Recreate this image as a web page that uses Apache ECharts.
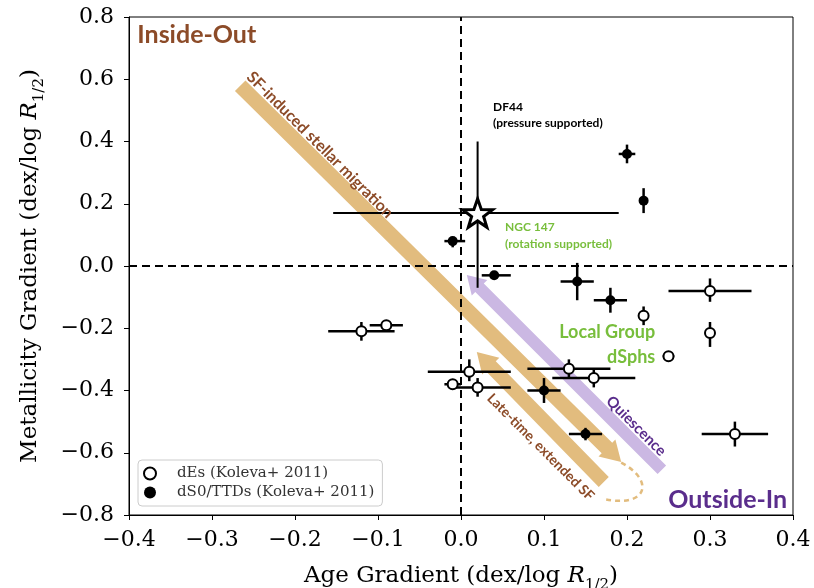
<!DOCTYPE html>
<html>
<head>
<meta charset="utf-8">
<script src="https://cdn.jsdelivr.net/npm/echarts@6/dist/echarts.min.js"></script>
<style>
  html, body { margin: 0; padding: 0; background: #fff; }
  #chart { width: 814px; height: 588px; }
</style>
</head>
<body>
<div id="chart"></div>
<script>
// dEs (Koleva+ 2011): [age gradient, metallicity gradient]
const dEsPoints = [
  [-0.12, -0.21], [-0.09, -0.19], [0.01, -0.34], [-0.01, -0.38], [0.02, -0.39],
  [0.13, -0.33], [0.16, -0.36], [0.30, -0.08], [0.22, -0.16], [0.30, -0.215],
  [0.25, -0.29], [0.33, -0.54]
]
const dEsAgeErr = [
  [-0.16, -0.08], [-0.11, -0.07], [-0.04, 0.06], [-0.02, 0.0], [-0.01, 0.06],
  [0.08, 0.18], [0.11, 0.21], [0.25, 0.35], [0.215, 0.225], [0.295, 0.305],
  [0.243, 0.257], [0.29, 0.37]
]
const dEsMetErr = [
  [-0.24, -0.18], [-0.20, -0.18], [-0.37, -0.30], [-0.39, -0.37], [-0.42, -0.36],
  [-0.36, -0.30], [-0.39, -0.33], [-0.115, -0.04], [-0.19, -0.13], [-0.26, -0.18],
  [-0.30, -0.28], [-0.58, -0.50]
]

// dS0/TTDs (Koleva+ 2011)
const dS0Points = [
  [-0.01, 0.08], [0.04, -0.03], [0.14, -0.05], [0.18, -0.11],
  [0.20, 0.36], [0.22, 0.21], [0.10, -0.40], [0.15, -0.54]
]
const dS0AgeErr = [
  [-0.02, 0.005], [0.025, 0.06], [0.12, 0.16], [0.16, 0.20],
  [0.19, 0.21], [0.215, 0.225], [0.08, 0.12], [0.13, 0.17]
]
const dS0MetErr = [
  [0.06, 0.09], [-0.04, -0.02], [-0.11, 0.01], [-0.15, -0.07],
  [0.33, 0.39], [0.17, 0.25], [-0.44, -0.36], [-0.56, -0.52]
]

// DF44
const df44Point = [0.02, 0.17]
const df44AgeErr = [-0.154, 0.19]
const df44MetErr = [-0.07, 0.40]

// schematic arrows: [tail], [tip] in gradient units
const migrationArrow = [[-0.266, 0.579], [0.193, -0.630]]
const lateSFArrow = [[0.172, -0.694], [0.019, -0.276]]
const quiescenceArrow = [[0.242, -0.655], [0.007, -0.029]]
const returnCurve = [[0.193, -0.632], [0.232, -0.685], [0.228, -0.780], [0.170, -0.748]]

// annotations
const noteText = ['Inside-Out', 'Outside-In', 'DF44', '(pressure supported)', 'NGC 147',
  '(rotation supported)', 'Local Group', 'dSphs', 'SF-induced stellar migration',
  'Quiescence', 'Late-time, extended SF']
const noteX = [-0.390, 0.393, 0.0386, 0.0386, 0.053, 0.053, 0.234, 0.234, -0.170, 0.211, 0.096]
const noteY = [0.742, -0.752, 0.511, 0.459, 0.125, 0.071, -0.212, -0.292, 0.389, -0.514, -0.582]

const xTicks = [-0.4, 0.4, 0.1]
const yTicks = [-0.8, 0.8, 0.2]

const brown = '#8c4b28'
const purple = '#5a2d8c'
const green = '#78be3c'
const tan = '#e2bc7e'
const lilac = '#cbb8e3'

const noteStyles = [
  { color: brown, size: 25, align: 'left', rot: 0 },
  { color: purple, size: 25, align: 'right', rot: 0 },
  { color: '#000', size: 12, align: 'left', rot: 0 },
  { color: '#000', size: 12, align: 'left', rot: 0 },
  { color: green, size: 12, align: 'left', rot: 0 },
  { color: green, size: 12, align: 'left', rot: 0 },
  { color: green, size: 18, align: 'right', rot: 0 },
  { color: green, size: 18, align: 'right', rot: 0 },
  { color: brown, size: 16, align: 'center', rot: -Math.PI / 4 },
  { color: purple, size: 15, align: 'center', rot: -Math.PI / 4 },
  { color: brown, size: 14, align: 'center', rot: -Math.PI / 4 }
]

const arrowStyles = [
  { color: tan, width: 15, headWidth: 24, headLength: 20 },
  { color: tan, width: 14, headWidth: 24, headLength: 20 },
  { color: lilac, width: 12, headWidth: 22, headLength: 18 }
]

const fmt = v => (v < -1e-9 ? '\u2212' : '') + Math.abs(v).toFixed(1)

function errorData(points, xe, ye) {
  return points.map((p, i) => [p[0], p[1], xe[i][0], xe[i][1], ye[i][0], ye[i][1]])
}

function errorBarItem(lineWidth) {
  return function (params, api) {
    const xl = api.coord([api.value(2), api.value(1)])
    const xh = api.coord([api.value(3), api.value(1)])
    const yl = api.coord([api.value(0), api.value(4)])
    const yh = api.coord([api.value(0), api.value(5)])
    const style = { stroke: '#000', lineWidth: lineWidth }
    return {
      type: 'group',
      children: [
        { type: 'line', shape: { x1: xl[0], y1: xl[1], x2: xh[0], y2: xh[1] }, style: style },
        { type: 'line', shape: { x1: yl[0], y1: yl[1], x2: yh[0], y2: yh[1] }, style: style }
      ]
    }
  }
}

function arrowItem(params, api) {
  const s = arrowStyles[params.dataIndex]
  const p1 = api.coord([api.value(0), api.value(1)])
  const p2 = api.coord([api.value(2), api.value(3)])
  const dx = p2[0] - p1[0], dy = p2[1] - p1[1]
  const len = Math.hypot(dx, dy)
  const ux = dx / len, uy = dy / len, nx = -uy, ny = ux
  const bx = p2[0] - ux * s.headLength, by = p2[1] - uy * s.headLength
  const hw = s.width / 2, hh = s.headWidth / 2
  const pts = [
    [p1[0] + nx * hw, p1[1] + ny * hw],
    [bx + nx * hw, by + ny * hw],
    [bx + nx * hh, by + ny * hh],
    [p2[0], p2[1]],
    [bx - nx * hh, by - ny * hh],
    [bx - nx * hw, by - ny * hw],
    [p1[0] - nx * hw, p1[1] - ny * hw]
  ]
  return { type: 'polygon', shape: { points: pts }, style: { fill: s.color } }
}

function curveItem(params, api) {
  const p = [0, 1, 2, 3].map(k => api.coord(returnCurve[k]))
  return {
    type: 'bezierCurve',
    shape: { x1: p[0][0], y1: p[0][1], cpx1: p[1][0], cpy1: p[1][1], cpx2: p[2][0], cpy2: p[2][1], x2: p[3][0], y2: p[3][1] },
    style: { stroke: tan, lineWidth: 2.5, lineDash: [5, 4], fill: null }
  }
}

function noteItem(params, api) {
  const s = noteStyles[params.dataIndex]
  const p = api.coord([api.value(0), api.value(1)])
  return {
    type: 'text',
    x: p[0],
    y: p[1],
    rotation: s.rot,
    style: {
      text: noteText[params.dataIndex],
      fill: s.color,
      font: 'bold ' + s.size + 'px Lato, "Open Sans", sans-serif',
      align: s.align,
      verticalAlign: 'middle'
    }
  }
}

const nameRich = {
  n: { fontFamily: 'DejaVu Serif', fontSize: 23, color: '#000', verticalAlign: 'top', lineHeight: 28 },
  i: { fontFamily: 'DejaVu Serif', fontStyle: 'italic', fontSize: 23, color: '#000', verticalAlign: 'top', lineHeight: 28 },
  s: { fontFamily: 'DejaVu Serif', fontSize: 15, color: '#000', verticalAlign: 'bottom', lineHeight: 15, padding: [16, 0, 0, 0] }
}

const chart = echarts.init(document.getElementById('chart'))

chart.setOption({
  animation: false,
  backgroundColor: '#fff',
  grid: {
    left: 129, right: 21, top: 17, bottom: 73,
    outerBoundsMode: 'none',
    show: true, borderColor: '#000', borderWidth: 1, backgroundColor: 'transparent'
  },
  legend: {
    data: ['dEs (Koleva+ 2011)', 'dS0/TTDs (Koleva+ 2011)'],
    orient: 'vertical',
    left: 138,
    top: 460,
    padding: [6, 8, 6, 5],
    itemGap: 4,
    itemWidth: 24,
    itemHeight: 12,
    borderColor: '#ccc',
    borderWidth: 1,
    borderRadius: 4,
    backgroundColor: '#fff',
    formatter: name => '{a|' + name + '}',
    textStyle: {
      rich: { a: { fontFamily: 'DejaVu Serif', fontSize: 15, color: '#333', padding: [0, 0, 0, 10] } }
    }
  },
  xAxis: {
    type: 'value',
    min: xTicks[0],
    max: xTicks[1],
    interval: xTicks[2],
    name: '{n|Age Gradient (dex/log }{i|R}{s|1/2}{n|)}',
    nameLocation: 'middle',
    nameGap: 50,
    nameTextStyle: { rich: nameRich },
    axisLine: { onZero: false, lineStyle: { color: '#000', width: 1 } },
    axisTick: { show: true, length: 5, lineStyle: { color: '#000' } },
    axisLabel: { formatter: fmt, fontFamily: 'DejaVu Serif', fontSize: 22, color: '#000', margin: 14 },
    splitLine: { show: false }
  },
  yAxis: {
    type: 'value',
    min: yTicks[0],
    max: yTicks[1],
    interval: yTicks[2],
    name: '{n|Metallicity Gradient (dex/log }{i|R}{s|1/2}{n|)}',
    nameLocation: 'middle',
    nameGap: 82,
    nameTextStyle: { rich: nameRich },
    axisLine: { onZero: false, lineStyle: { color: '#000', width: 1 } },
    axisTick: { show: true, length: 5, lineStyle: { color: '#000' } },
    axisLabel: { formatter: fmt, fontFamily: 'DejaVu Serif', fontSize: 22, color: '#000', margin: 15 },
    splitLine: { show: false }
  },
  series: [
    {
      type: 'custom',
      name: 'arrows',
      z: 1,
      silent: true,
      renderItem: arrowItem,
      encode: { x: [0, 2], y: [1, 3] },
      data: [migrationArrow, lateSFArrow, quiescenceArrow].map(a => [a[0][0], a[0][1], a[1][0], a[1][1]])
    },
    {
      type: 'custom',
      name: 'return',
      z: 1,
      silent: true,
      renderItem: curveItem,
      encode: { x: 0, y: 1 },
      data: [returnCurve[0]]
    },
    {
      type: 'scatter',
      name: 'zero',
      z: 2,
      data: [],
      markLine: {
        silent: true,
        symbol: 'none',
        label: { show: false },
        lineStyle: { color: '#000', width: 2, type: [8, 5] },
        data: [{ xAxis: 0 }, { yAxis: 0 }]
      }
    },
    {
      type: 'custom',
      name: 'dEs err',
      z: 3,
      silent: true,
      renderItem: errorBarItem(2.5),
      encode: { x: [0, 2, 3], y: [1, 4, 5] },
      data: errorData(dEsPoints, dEsAgeErr, dEsMetErr)
    },
    {
      type: 'custom',
      name: 'dS0 err',
      z: 3,
      silent: true,
      renderItem: errorBarItem(2.5),
      encode: { x: [0, 2, 3], y: [1, 4, 5] },
      data: errorData(dS0Points, dS0AgeErr, dS0MetErr)
    },
    {
      type: 'custom',
      name: 'DF44 err',
      z: 3,
      silent: true,
      renderItem: errorBarItem(2),
      encode: { x: [0, 2, 3], y: [1, 4, 5] },
      data: errorData([df44Point], [df44AgeErr], [df44MetErr])
    },
    {
      type: 'scatter',
      name: 'dEs (Koleva+ 2011)',
      z: 4,
      symbol: 'circle',
      symbolSize: 10,
      itemStyle: { color: '#fff', borderColor: '#000', borderWidth: 2, opacity: 1 },
      data: dEsPoints
    },
    {
      type: 'scatter',
      name: 'dS0/TTDs (Koleva+ 2011)',
      z: 4,
      symbol: 'circle',
      symbolSize: 10,
      itemStyle: { color: '#000', opacity: 1 },
      data: dS0Points
    },
    {
      type: 'scatter',
      name: 'DF44',
      z: 5,
      symbol: 'path://M0,-10 L2.35,-3.24 L9.51,-3.09 L3.8,1.24 L5.88,8.09 L0,4 L-5.88,8.09 L-3.8,1.24 L-9.51,-3.09 L-2.35,-3.24 Z',
      symbolKeepAspect: true,
      symbolSize: 30,
      itemStyle: { color: '#fff', borderColor: '#000', borderWidth: 3, opacity: 1 },
      data: [df44Point]
    },
    {
      type: 'custom',
      name: 'notes',
      z: 6,
      silent: true,
      renderItem: noteItem,
      encode: { x: 0, y: 1 },
      data: noteX.map((x, i) => [x, noteY[i]])
    }
  ]
})
</script>
</body>
</html>
